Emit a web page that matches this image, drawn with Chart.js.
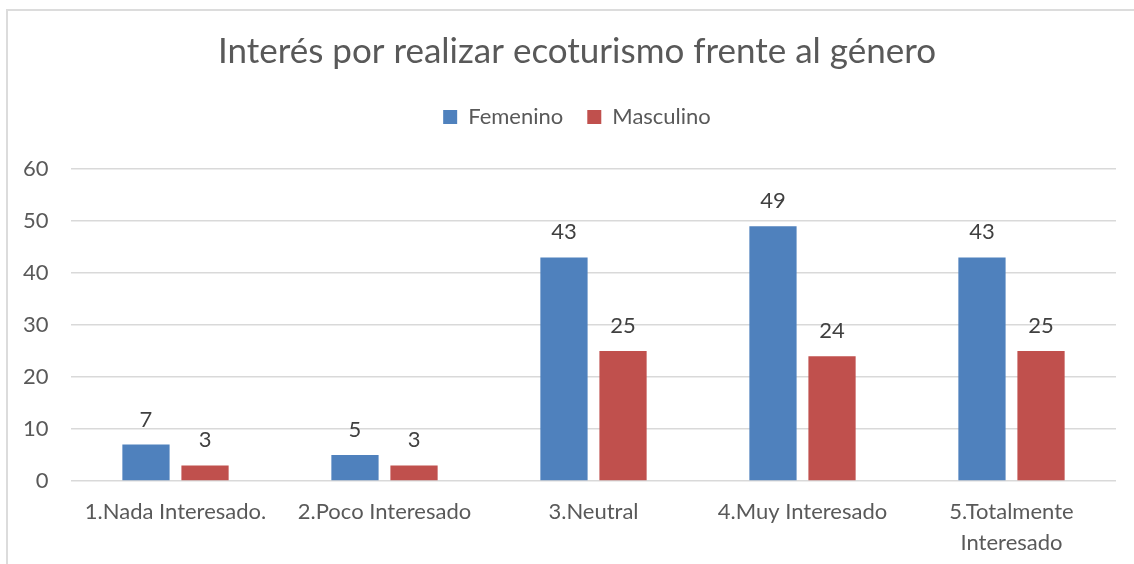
<!DOCTYPE html>
<html>
<head>
<meta charset="utf-8">
<script src="https://cdn.jsdelivr.net/npm/chart.js@4/dist/chart.umd.min.js"></script>
<style>
  html, body { margin: 0; padding: 0; background: #fff; overflow: hidden; }
  #wrap { position: relative; width: 1134px; height: 564px; }
  #frame {
    position: absolute; left: 6px; top: 9px; width: 1200px; height: 700px;
    border-top: 2px solid #dcdcdc; border-left: 2px solid #dcdcdc;
  }
  #chart { position: absolute; left: 0; top: 0; }
</style>
</head>
<body>
<div id="wrap">
  <div id="frame"></div>
  <canvas id="chart" width="1134" height="564"></canvas>
</div>
<script>
const title = "Interés por realizar ecoturismo frente al género";
const categories = [
  "1.Nada Interesado.",
  "2.Poco Interesado",
  "3.Neutral",
  "4.Muy Interesado",
  ["5.Totalmente", "Interesado"],
];
const femenino = [7, 5, 43, 49, 43];
const masculino = [3, 3, 25, 24, 25];
const yMin = 0;
const yMax = 60;
const yStep = 10;

const FONT = "Lato";
const textGrey = "#595959";
const gridGrey = "#d9d9d9";

// value labels above every bar
const barLabels = {
  id: "barLabels",
  afterDatasetsDraw(chart) {
    const { ctx } = chart;
    ctx.save();
    ctx.font = `22px ${FONT}`;
    ctx.fillStyle = "#404040";
    ctx.textAlign = "center";
    ctx.textBaseline = "alphabetic";
    chart.data.datasets.forEach((ds, i) => {
      chart.getDatasetMeta(i).data.forEach((bar, j) => {
        ctx.fillText(String(ds.data[j]), bar.x, bar.y - 18);
      });
    });
    ctx.restore();
  },
};

new Chart(document.getElementById("chart"), {
  type: "bar",
  data: {
    labels: categories,
    datasets: [
      {
        label: "Femenino",
        data: femenino,
        backgroundColor: "#4f81bd",
        categoryPercentage: 0.565,
        barPercentage: 0.8,
      },
      {
        label: "Masculino",
        data: masculino,
        backgroundColor: "#c0504d",
        categoryPercentage: 0.565,
        barPercentage: 0.8,
      },
    ],
  },
  options: {
    responsive: false,
    animation: false,
    layout: { padding: { left: 38, right: 18, top: 0, bottom: 0 } },
    plugins: {
      title: {
        display: true,
        text: title,
        color: textGrey,
        font: { family: FONT, size: 35, weight: "normal", lineHeight: 1.2 },
        padding: { top: 31, bottom: 9 },
      },
      legend: {
        display: true,
        position: "top",
        labels: {
          color: textGrey,
          font: { family: FONT, size: 22 },
          boxWidth: 14,
          boxHeight: 14,
          padding: 24,
        },
      },
      // empty subtitle used only as a gap below the legend
      subtitle: {
        display: true,
        text: "",
        weight: 500,
        font: { size: 1, lineHeight: 1 },
        padding: { top: 0, bottom: 30 },
      },
      tooltip: { enabled: false },
    },
    scales: {
      x: {
        grid: { display: false },
        border: { display: false },
        ticks: {
          color: textGrey,
          font: { family: FONT, size: 22, lineHeight: 1.41 },
          padding: 7,
          maxRotation: 0,
          autoSkip: false,
        },
        afterFit(scale) {
          scale.height = 83;
        },
      },
      y: {
        min: yMin,
        max: yMax,
        grid: { color: gridGrey, lineWidth: 1.5, drawTicks: false },
        border: { display: false },
        ticks: {
          stepSize: yStep,
          color: textGrey,
          font: { family: FONT, size: 22 },
          // mirrored labels are not clipped to the narrow axis box;
          // negative padding pulls them back left of the plot
          mirror: true,
          crossAlign: "far",
          padding: -48,
        },
        afterFit(scale) {
          scale.width = 33;
        },
      },
    },
  },
  plugins: [barLabels],
});
</script>
</body>
</html>
